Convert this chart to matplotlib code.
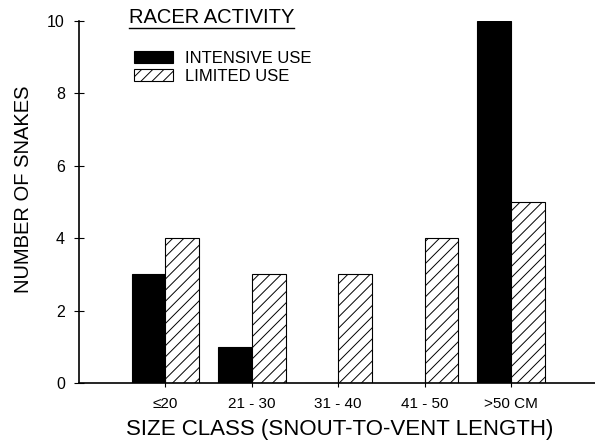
"""Racer activity by size class: intensive vs limited use bar chart."""

import matplotlib

matplotlib.use("Agg")

import matplotlib.pyplot as plt
import numpy as np
from matplotlib.lines import Line2D

plt.rcParams["font.family"] = ["Liberation Sans", "DejaVu Sans"]
plt.rcParams["hatch.linewidth"] = 0.7

SIZE_CLASSES = ["≤20", "21 - 30", "31 - 40", "41 - 50", ">50 CM"]
INTENSIVE_USE = [3, 1, 0, 0, 10]
LIMITED_USE = [4, 3, 3, 4, 5]

x = np.arange(1, len(SIZE_CLASSES) + 1)
width = 0.39

fig = plt.figure(figsize=(5.95, 4.46), dpi=100)
ax = fig.add_axes([0.1328, 0.1413, 0.867, 0.8117])

ax.bar(x - width / 2, INTENSIVE_USE, width, color="black", edgecolor="black",
       linewidth=0.8, label="INTENSIVE USE")
ax.bar(x + width / 2, LIMITED_USE, width, color="white", edgecolor="black",
       linewidth=0.8, hatch="///", label="LIMITED USE")

ax.set_xlim(0, 5.97)
ax.set_ylim(0, 10)
ax.set_xticks(x)
ax.set_xticklabels(SIZE_CLASSES, fontsize=11)
ax.set_yticks(np.arange(0, 11, 2))
ax.tick_params(axis="y", direction="inout", length=6.5, width=0.8, pad=7, labelsize=11.5)
ax.tick_params(axis="x", direction="inout", length=6, width=0.8, pad=7)
for side in ("top", "right"):
    ax.spines[side].set_visible(False)
ax.spines["left"].set_linewidth(1.2)
ax.spines["bottom"].set_linewidth(1.2)

fig.text(0.04, 0.576, "NUMBER OF SNAKES", rotation=90, ha="center", va="center", fontsize=14.5)
fig.text(0.571, 0.036, "SIZE CLASS (SNOUT-TO-VENT LENGTH)", ha="center", va="center", fontsize=16)

leg = ax.legend(loc="upper left", bbox_to_anchor=(0.094, 0.935), frameon=False, fontsize=12,
                handlelength=2.3, handleheight=0.7, handletextpad=0.75, labelspacing=0.15,
                borderaxespad=0)

title = fig.text(129 / 595, 1 - 17.5 / 446, "RACER ACTIVITY", ha="left", va="center", fontsize=14.5)
fig.canvas.draw()
bb = title.get_window_extent()
fig.add_artist(Line2D([bb.x0, bb.x1], [bb.y0 - 1, bb.y0 - 1], color="black", linewidth=1.0,
                      transform=None))

fig.savefig("out.png", dpi=100)
plt.close(fig)
